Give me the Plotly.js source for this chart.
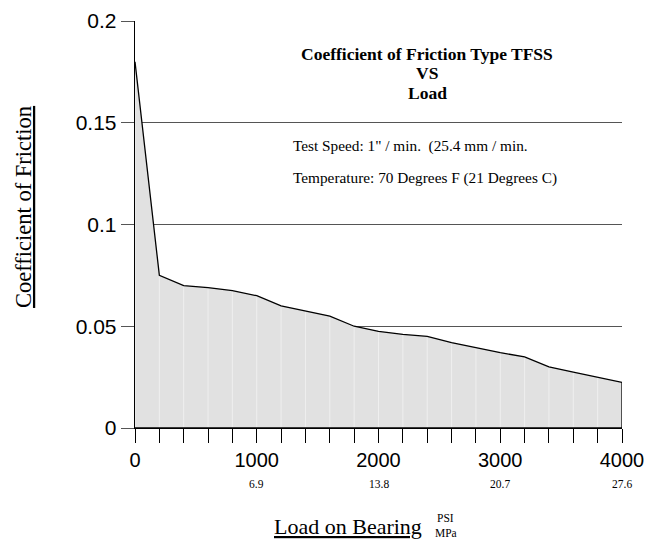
<!DOCTYPE html>
<html><head><meta charset="utf-8">
<script src="https://cdn.plot.ly/plotly-3.0.1.min.js"></script>
<style>html,body{margin:0;padding:0;background:#fff}</style>
</head><body>
<div id="chart" style="width:654px;height:539px"></div>
<script>
// ---- data ----
const loadPsi = [0,200,400,600,800,1000,1200,1400,1600,1800,2000,2200,2400,2600,2800,3000,3200,3400,3600,3800,4000];
const friction = [0.18,0.075,0.070,0.069,0.0675,0.065,0.060,0.0575,0.055,0.050,0.0475,0.046,0.045,0.042,0.0395,0.037,0.035,0.030,0.0275,0.025,0.0224];
const psiTickVals = [0,1000,2000,3000,4000];
const psiTickText = ['0','1000','2000','3000','4000'];
const mpaTickText = ['','6.9','13.8','20.7','27.6'];
const yTickVals = [0,0.05,0.1,0.15,0.2];
const yTickText = ['0','0.05','0.1','0.15','0.2'];
const titleLines = ['Coefficient of Friction Type TFSS','VS','Load'];
const noteLines = ['Test Speed: 1" / min.\u00a0 (25.4 mm / min.','Temperature: 70 Degrees F (21 Degrees C)'];

// polygon (curve closed down to the axis)
const polyX = loadPsi.concat([loadPsi[loadPsi.length-1], loadPsi[0]]);
const polyY = friction.concat([0, 0]);

// light vertical lines inside the filled area at each data point
const vX = [], vY = [];
loadPsi.forEach((x,i)=>{ vX.push(x,x,null); vY.push(0,friction[i],null); });

const serif = 'Liberation Serif, Times New Roman, serif';
const sans = 'Liberation Sans, Arial, sans-serif';

const traces = [
  {x: polyX, y: polyY, type:'scatter', mode:'lines', fill:'toself', fillcolor:'#e1e1e1',
   line:{width:0}, hoverinfo:'skip', showlegend:false},
  {x: vX, y: vY, type:'scatter', mode:'lines', line:{color:'#efefef', width:1},
   hoverinfo:'skip', showlegend:false},
  {x: polyX, y: polyY, type:'scatter', mode:'lines', line:{color:'#000', width:1.3},
   showlegend:false}
];

const annotations = [];
// title lines
const titleY = [0.919, 0.8715, 0.8235];
titleLines.forEach((t,i)=>annotations.push({text:'<b>'+t+'</b>', xref:'paper', yref:'paper',
  x:0.6, y:titleY[i], xanchor:'center', yanchor:'middle', showarrow:false,
  font:{family:serif, size:17.5, color:'#000'}}));
// notes
const noteY = [0.693, 0.614];
noteLines.forEach((t,i)=>annotations.push({text:t, xref:'paper', yref:'paper',
  x:0.32, y:noteY[i], xanchor:'left', yanchor:'middle', showarrow:false,
  font:{family:serif, size:15.3, color:'#000'}}));
// MPa secondary tick labels
psiTickVals.forEach((v,i)=>{ if(mpaTickText[i]) annotations.push({text:mpaTickText[i], xref:'x', yref:'paper',
  x:v, y:-0.138, xanchor:'center', yanchor:'middle', showarrow:false,
  font:{family:serif, size:11.5, color:'#000'}}); });
// axis titles
annotations.push({text:'Load on Bearing', xref:'paper', yref:'paper', x:0.437, y:-0.243,
  xanchor:'center', yanchor:'middle', showarrow:false,
  font:{family:serif, size:22, color:'#000', lineposition:'under'}});
annotations.push({text:'PSI', xref:'paper', yref:'paper', x:0.638, y:-0.222,
  xanchor:'center', yanchor:'middle', showarrow:false, font:{family:serif, size:11.5, color:'#000'}});
annotations.push({text:'MPa', xref:'paper', yref:'paper', x:0.638, y:-0.257,
  xanchor:'center', yanchor:'middle', showarrow:false, font:{family:serif, size:11.5, color:'#000'}});
annotations.push({text:'Coefficient of Friction', xref:'paper', yref:'paper', x:-0.228, y:0.543,
  xanchor:'center', yanchor:'middle', textangle:-90, showarrow:false,
  font:{family:serif, size:22.5, color:'#000', lineposition:'under'}});

const layout = {
  width:654, height:539,
  margin:{l:135, r:32, t:21, b:111},
  paper_bgcolor:'#fff', plot_bgcolor:'#fff',
  showlegend:false,
  xaxis:{range:[0,4000], tickvals:psiTickVals, ticktext:psiTickText,
    ticks:'outside', ticklen:14, tickcolor:'#000', tickwidth:1,
    minor:{dtick:200, tick0:0, ticks:'outside', ticklen:14, tickcolor:'#000', tickwidth:1, showgrid:false},
    showgrid:false, zeroline:false, showline:true, linecolor:'#000', linewidth:1.3,
    tickfont:{family:sans, size:20, color:'#000'}, fixedrange:true},
  yaxis:{range:[0,0.2], tickvals:yTickVals, ticktext:yTickText,
    ticks:'outside', ticklen:13, tickcolor:'#555', tickwidth:1,
    showgrid:true, gridcolor:'#555', gridwidth:1,
    zeroline:false, showline:true, linecolor:'#000', linewidth:1.3,
    tickfont:{family:sans, size:21, color:'#000'}, fixedrange:true},
  annotations: annotations
};

Plotly.newPlot('chart', traces, layout, {displayModeBar:false, staticPlot:true});
</script>
</body></html>
